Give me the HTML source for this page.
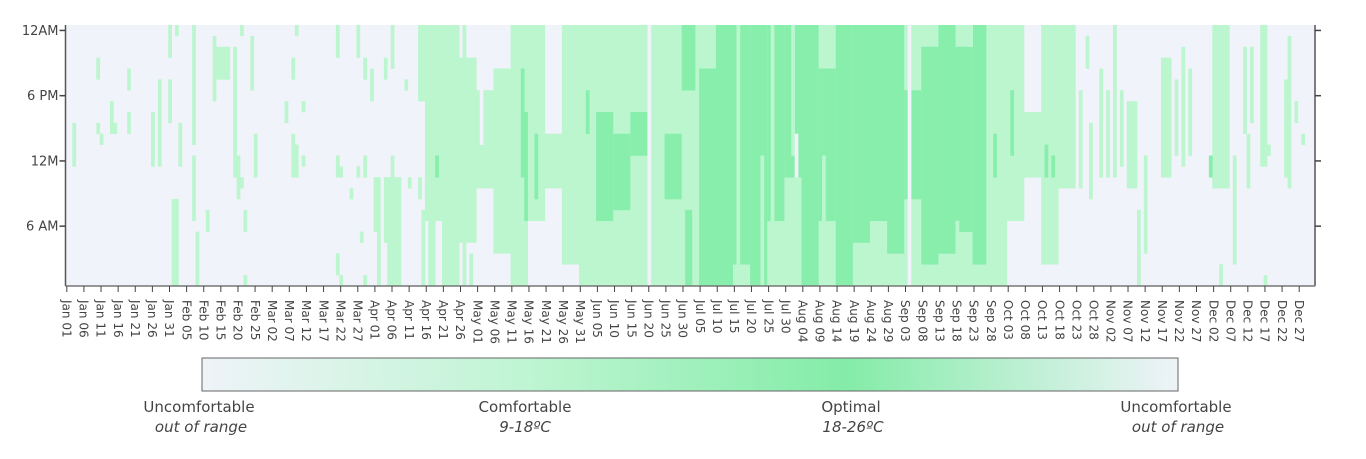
<!DOCTYPE html>
<html><head><meta charset="utf-8">
<style>
html,body{margin:0;padding:0;background:#fff;}
body{width:1366px;height:459px;overflow:hidden;font-family:"DejaVu Sans","Liberation Sans",sans-serif;}
svg{display:block}
text{font-family:"DejaVu Sans","Liberation Sans",sans-serif;}
</style></head>
<body>
<svg id="chart" width="1366" height="459" viewBox="0 0 1366 459" xmlns="http://www.w3.org/2000/svg">
  <defs>
    <linearGradient id="cbgrad" x1="0" x2="1" y1="0" y2="0">
      <stop offset="0" stop-color="#eef3f8"/>
      <stop offset="0.33" stop-color="#bff5d3"/>
      <stop offset="0.66" stop-color="#84eca8"/>
      <stop offset="1" stop-color="#eef3f8"/>
    </linearGradient>
  </defs>
  <rect x="65.5" y="25" width="1249.5" height="261" fill="#f0f3f9"/>
  <g id="cells"></g>
  <g id="axes"></g>
  <g id="xlabels"></g>
  <g>
    <rect x="202" y="358" width="976" height="33" fill="url(#cbgrad)" stroke="#666" stroke-width="1"/>
    <text x="199" y="412" text-anchor="middle" font-size="15" fill="#444">Uncomfortable</text>
    <text x="201" y="432" text-anchor="middle" font-size="15" font-style="italic" fill="#444">out of range</text>
    <text x="525" y="412" text-anchor="middle" font-size="15" fill="#444">Comfortable</text>
    <text x="525" y="432" text-anchor="middle" font-size="15" font-style="italic" fill="#444">9-18ºC</text>
    <text x="851" y="412" text-anchor="middle" font-size="15" fill="#444">Optimal</text>
    <text x="853" y="432" text-anchor="middle" font-size="15" font-style="italic" fill="#444">18-26ºC</text>
    <text x="1176" y="412" text-anchor="middle" font-size="15" fill="#444">Uncomfortable</text>
    <text x="1178" y="432" text-anchor="middle" font-size="15" font-style="italic" fill="#444">out of range</text>
  </g>
</svg>
<script>
// 5-day bins (73 bins): comfortable band [cLo,cHi) and optimal band [oLo,oHi) in hour rows (0 = bottom)
const cLo=[0,0,0,0,0,0,0,0,0,0,0,0,0,0,0,0,0,0,0,0,0,6,0,4,9,3,0,6,9,2,0,0,0,0,0,0,0,0,0,0,0,0,0,0,0,0,0,0,0,0,0,0,0,0,0,6,10,2,9,0,0,0,0,0,0,0,0,9,0,0,0,0,0];
const cHi=[0,0,0,0,0,0,0,0,0,0,0,0,0,0,0,0,0,0,0,0,0,24,24,21,18,20,24,24,14,24,24,24,24,24,24,24,24,24,24,24,24,24,24,24,24,24,24,24,24,24,24,24,24,24,24,24,16,24,24,0,0,0,0,0,0,0,0,24,0,0,0,0,0];
const oLo=[0,0,0,0,0,0,0,0,0,0,0,0,0,0,0,0,0,0,0,0,0,0,0,0,0,0,0,0,0,0,0,6,7,12,0,8,18,0,0,2,0,6,10,0,6,0,4,6,3,8,2,3,5,2,0,0,0,0,0,0,0,0,0,0,0,0,0,0,0,0,0,0,0];
const oHi=[0,0,0,0,0,0,0,0,0,0,0,0,0,0,0,0,0,0,0,0,0,0,0,0,0,0,0,0,0,0,0,16,14,16,0,14,24,20,24,24,24,24,24,24,20,24,24,24,24,18,22,24,22,24,0,0,0,0,0,0,0,0,0,0,0,0,0,0,0,0,0,0,0];
// individual day strips: [day, rowLo, rowHi, level(1=comfortable,2=optimal,0=uncomfortable)]
const strips=[
[2,11,15,1],[9,19,21,1],[9,14,15,1],[10,13,14,1],[13,14,17,1],[14,14,15,1],[18,18,20,1],[18,14,16,1],
[25,11,16,1],[27,11,19,1],[30,21,24,1],[30,15,19,1],[31,0,8,1],[32,23,24,1],[32,0,8,1],[33,11,15,1],
[37,13,24,1],[37,6,12,1],[38,0,5,1],[41,5,7,1],[43,17,23,1],[44,19,22,1],[45,19,22,1],[46,19,22,1],[47,19,22,1],
[49,10,22,1],[50,8,12,1],[51,9,10,1],[51,23,24,1],[52,5,7,1],[52,0,1,1],[54,18,23,1],[55,10,14,1],
[64,15,17,1],[66,19,21,1],[66,10,14,1],[67,23,24,1],[67,10,13,1],[69,16,17,1],[69,11,12,1],
[79,21,24,1],[79,10,12,1],[79,1,3,1],[80,10,11,1],[80,0,1,1],[83,8,9,1],[85,21,24,1],[85,10,11,1],[86,4,5,1],
[87,19,21,1],[87,10,12,1],[87,0,1,1],[89,17,20,1],[90,5,10,1],[91,0,10,1],[93,19,21,1],[93,4,10,1],
[94,0,10,1],[95,0,12,1],[95,20,24,1],[96,0,10,1],[97,0,10,1],[99,18,19,1],[100,9,10,1],
[103,17,24,1],[103,8,10,1],[104,0,7,1],[104,17,24,1],[105,8,10,1],[106,17,24,1],[106,0,7,1],[107,0,24,1],
[108,10,12,2],[116,0,24,1],[118,0,3,1],[121,13,19,0],[133,10,20,2],[134,6,16,2],[137,8,14,2],[152,14,18,2],
[170,0,24,0],[181,0,7,2],[182,0,7,2],[184,0,24,1],[196,0,24,1],[203,0,12,1],[206,6,24,1],[212,12,24,1],
[213,10,14,0],[221,6,12,1],[246,0,24,0],[260,0,6,1],[264,22,24,1],[269,0,24,1],[271,10,14,2],[276,12,18,2],
[286,10,13,2],[288,10,12,2],
[296,9,18,1],[298,20,23,1],[299,8,15,1],[302,10,20,1],[304,10,18,1],[306,10,24,1],[308,11,18,1],[310,9,17,1],
[311,9,17,1],[312,9,17,1],[313,0,7,1],[315,3,12,1],[320,10,21,1],[321,10,21,1],[322,10,21,1],[324,12,19,1],
[326,11,22,1],[328,12,20,1],[334,10,12,2],[337,0,2,1],[341,2,12,1],[344,14,22,1],[345,9,14,1],[346,15,22,1],
[349,11,24,1],[350,11,24,1],[350,0,1,1],[351,12,13,1],[356,10,19,1],[357,9,23,1],[359,15,17,1],[361,13,14,1]
];
const monthNames=["Jan","Feb","Mar","Apr","May","Jun","Jul","Aug","Sep","Oct","Nov","Dec"];
const monthDays=[31,28,31,30,31,30,31,31,30,31,30,31];
const yTickRows=[23,17,11,5];
const yTickLabels=["12AM","6 PM","12M","6 AM"];

const NS="http://www.w3.org/2000/svg";
const X0=65.5,X1=1315,Y0=25,Y1=286,NDAYS=365,NROWS=24;
const dw=(X1-X0)/NDAYS, rh=(Y1-Y0)/NROWS;
const xDay=d=>X0+d*dw;
const yRow=r=>Y1-r*rh;
const colors=["#f0f3f9","#bbf6cf","#88eeac"];
function mk(tag,attrs,parent){const e=document.createElementNS(NS,tag);for(const k in attrs)e.setAttribute(k,attrs[k]);parent.appendChild(e);return e;}
const cells=document.getElementById('cells');
function cell(d0,d1,r0,r1,lvl,name){
  const e=mk('rect',{x:xDay(d0).toFixed(2),y:yRow(r1).toFixed(2),width:(xDay(d1)-xDay(d0)+0.3).toFixed(2),height:(yRow(r0)-yRow(r1)+0.3).toFixed(2),fill:colors[lvl]},cells);
  
  
}
for(let i=0;i<cLo.length;i++){
  const d0=i*5,d1=Math.min(NDAYS,d0+5);
  if(cHi[i]>cLo[i]) cell(d0,d1,cLo[i],cHi[i],1,'comfortable-cell');
  if(oHi[i]>oLo[i]) cell(d0,d1,oLo[i],oHi[i],2,'optimal-cell');
}
strips.forEach(s=>{cell(s[0],s[0]+1,s[1],s[2],s[3],s[3]===2?'optimal-cell':(s[3]===1?'comfortable-cell':'uncomfortable-cell'));});

const axes=document.getElementById('axes');
let a=mk('line',{x1:X0,y1:Y0,x2:X0,y2:Y1,stroke:'#555','stroke-width':1.5},axes);

a=mk('line',{x1:X1,y1:Y0,x2:X1,y2:Y1,stroke:'#555','stroke-width':1.5},axes);

a=mk('line',{x1:X0,y1:Y1,x2:X1,y2:Y1,stroke:'#777','stroke-width':1.5},axes);

yTickRows.forEach((r,i)=>{
  const y=yRow(r+0.5);
  let t=mk('line',{x1:X0-6,y1:y,x2:X0,y2:y,stroke:'#444','stroke-width':1.5},axes);
  
  t=mk('line',{x1:X1,y1:y,x2:X1+6,y2:y,stroke:'#444','stroke-width':1.5},axes);
  
  const l=mk('text',{x:X0-7,y:y+4.5,'text-anchor':'end','font-size':13,fill:'#444'},axes);
  l.textContent=yTickLabels[i];
  
});
const xl=document.getElementById('xlabels');
const dates=[];
for(let m=0;m<12;m++)for(let d=1;d<=monthDays[m];d++)dates.push(monthNames[m]+" "+String(d).padStart(2,'0'));
for(let d=0;d<NDAYS;d+=5){
  const x=xDay(d)+1.3;
  const t=mk('line',{x1:x,y1:Y1,x2:x,y2:Y1+6,stroke:'#444','stroke-width':1},axes);
  
  const l=mk('text',{x:0,y:0,'font-size':12,fill:'#444',transform:`translate(${(x-4.3).toFixed(2)},${Y1+14}) rotate(90)`},xl);
  l.textContent=dates[d];
  
}
</script>
</body></html>
